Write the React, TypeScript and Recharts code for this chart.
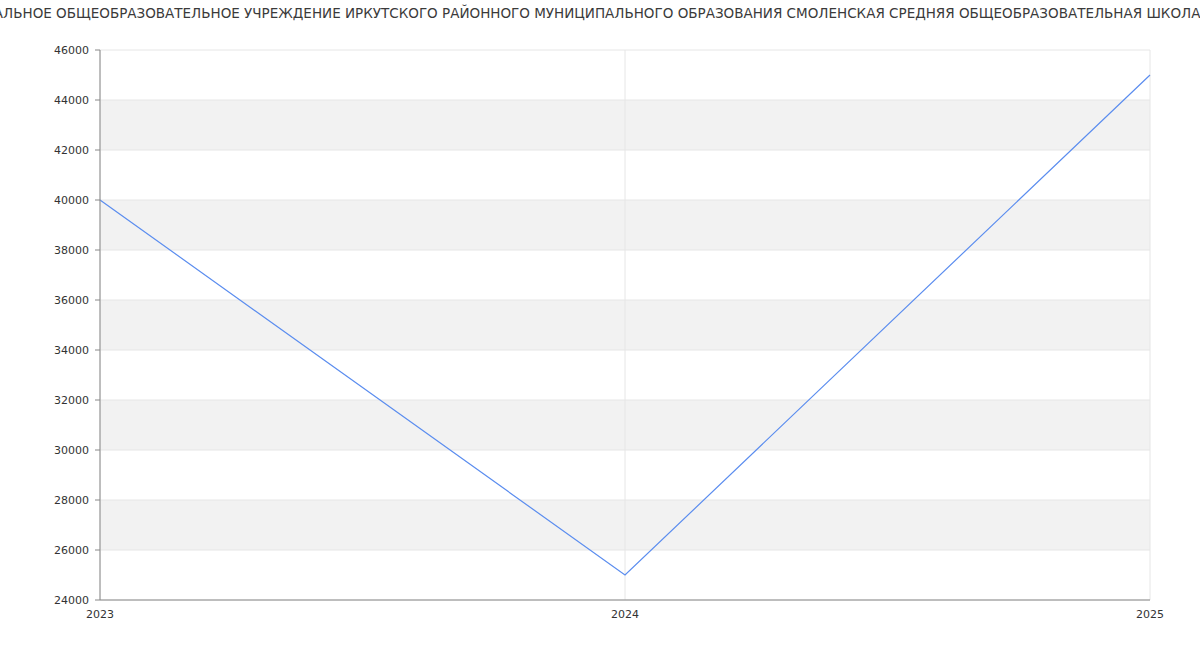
import { LineChart, Line, XAxis, YAxis, CartesianGrid } from 'recharts'

const TITLE =
  'МУНИЦИПАЛЬНОЕ ОБЩЕОБРАЗОВАТЕЛЬНОЕ УЧРЕЖДЕНИЕ ИРКУТСКОГО РАЙОННОГО МУНИЦИПАЛЬНОГО ОБРАЗОВАНИЯ СМОЛЕНСКАЯ СРЕДНЯЯ ОБЩЕОБРАЗОВАТЕЛЬНАЯ ШКОЛА'

const years = ['2023', '2024', '2025']
const values = [40000, 25000, 45000]
const yTicks = [24000, 26000, 28000, 30000, 32000, 34000, 36000, 38000, 40000, 42000, 44000, 46000]

const data = years.map((year, i) => ({ year, value: values[i] }))

export default function App() {
  return (
    <div style={{ position: 'absolute', left: 0, top: 0, width: 1200, height: 650, overflow: 'hidden', background: '#fff' }}>
      {/* title is wider than the frame, so it is clipped on both sides */}
      <div
        style={{
          position: 'absolute',
          top: 5,
          left: -77,
          whiteSpace: 'nowrap',
          fontFamily: 'DejaVu Sans, sans-serif',
          fontSize: 13.5,
          color: '#3a3a3a',
        }}
      >
        {TITLE}
      </div>
      <LineChart
        width={1200}
        height={650}
        data={data}
        margin={{ top: 50, right: 50, left: 0, bottom: 20 }}
        style={{ fontFamily: 'DejaVu Sans, sans-serif' }}
      >
        <CartesianGrid
          stroke="#e6e6e6"
          horizontalFill={['#ffffff', '#f2f2f2']}
          fillOpacity={1}
        />
        <XAxis
          dataKey="year"
          height={30}
          tickLine={false}
          stroke="#888"
          tick={{ fill: '#333', fontSize: 11 }}
          tickMargin={4}
        />
        <YAxis
          width={100}
          domain={[24000, 46000]}
          ticks={yTicks}
          stroke="#888"
          tickSize={5}
          tickMargin={6}
          tick={{ fill: '#333', fontSize: 11 }}
          allowDataOverflow
        />
        <Line
          type="linear"
          dataKey="value"
          stroke="#5b8def"
          strokeWidth={1.2}
          dot={false}
          activeDot={false}
          isAnimationActive={false}
        />
      </LineChart>
    </div>
  )
}
